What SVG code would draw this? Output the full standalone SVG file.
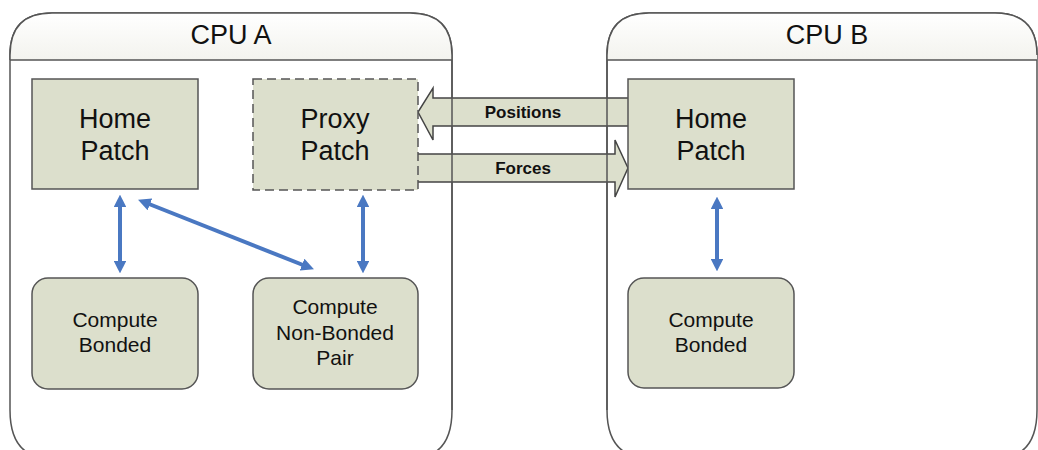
<svg xmlns="http://www.w3.org/2000/svg" width="1038" height="450" viewBox="0 0 1038 450">
<defs>
<linearGradient id="hdr" x1="0" y1="0" x2="0" y2="1">
<stop offset="0" stop-color="#ffffff"/>
<stop offset="1" stop-color="#f3f3ee"/>
</linearGradient>
<marker id="bh" viewBox="0 0 10 10" refX="5" refY="5" markerWidth="3.2" markerHeight="3.2" orient="auto-start-reverse">
<path d="M0,0 L10,5 L0,10 z" fill="#4a78c2"/>
</marker>
</defs>
<style>
.cpu{fill:#ffffff;stroke:#555;stroke-width:1.5}
.cpuo{fill:none;stroke:#555;stroke-width:1.5}
.box{fill:#dcdfcc;stroke:#555;stroke-width:1.5}
.dash{stroke-dasharray:9 5}
.t{font-family:"Liberation Sans",Arial,sans-serif;fill:#111;text-anchor:middle}
.big{font-size:27px}
.sm{font-size:21px}
.lab{font-size:17px;font-weight:bold}
.bl{stroke:#4a78c2;stroke-width:4;fill:none;marker-start:url(#bh);marker-end:url(#bh)}
.blk{fill:#dcdfcc;stroke:#444;stroke-width:1.5}
</style>
<g id="cpuA">
<path class="cpu" d="M10,410 L10,55 Q10,13 52,13 L410,13 Q452,13 452,55 L452,410 Q452,458 412,458 L50,458 Q10,458 10,410 z"/>
<path d="M10,60 L10,55 Q10,13 52,13 L410,13 Q452,13 452,55 L452,60 z" fill="url(#hdr)" stroke="none"/>
<text class="t big" x="231" y="44">CPU A</text>
</g>
<g id="cpuB">
<path class="cpu" d="M1037,410 Q1037,458 997,458 L649,458 Q607,458 607,410 L607,55 Q607,13 649,13 L995,13 Q1037,13 1037,55 z"/>
<path d="M607,60 L607,55 Q607,13 649,13 L995,13 Q1037,13 1037,55 L1037,60 z" fill="url(#hdr)" stroke="none"/>
<text class="t big" x="827" y="44">CPU B</text>
</g>
<g id="connectors">
<path class="blk" d="M628,98 L433,98 L433,88 L418,112 L433,140 L433,126 L628,126"/>
<path class="blk" d="M418,154 L615,154 L615,140 L628,168 L615,197 L615,182 L418,182"/>
<line class="bl" x1="120" y1="201" x2="120" y2="267"/>
<line class="bl" x1="144" y1="202" x2="308" y2="267"/>
<line class="bl" x1="363" y1="201" x2="363" y2="267"/>
<line class="bl" x1="717" y1="203" x2="717" y2="265"/>
<text class="t lab" x="523" y="118">Positions</text>
<text class="t lab" x="523" y="174">Forces</text>
</g>
<g id="frames">
<path class="cpuo" d="M10,60 L452,60 M452,55 L452,410 M607,55 L607,410 M607,60 L1037,60"/>
<path class="cpuo" d="M10,60 L10,55 Q10,13 52,13 L410,13 Q452,13 452,55"/>
<path class="cpuo" d="M607,55 Q607,13 649,13 L995,13 Q1037,13 1037,55"/>
</g>
<g id="homeA">
<rect class="box" x="32" y="79" width="166" height="110"/>
<text class="t big" x="115" y="128">Home</text>
<text class="t big" x="115" y="160">Patch</text>
</g>
<g id="proxyA">
<rect class="box dash" x="253" y="79" width="165" height="111"/>
<text class="t big" x="335" y="128">Proxy</text>
<text class="t big" x="335" y="160">Patch</text>
</g>
<g id="homeB">
<rect class="box" x="628" y="79" width="166" height="110"/>
<text class="t big" x="711" y="128">Home</text>
<text class="t big" x="711" y="160">Patch</text>
</g>
<g id="bondedA">
<rect class="box" x="32" y="278" width="166" height="111" rx="16"/>
<text class="t sm" x="115" y="327">Compute</text>
<text class="t sm" x="115" y="352">Bonded</text>
</g>
<g id="nonbonded">
<rect class="box" x="253" y="278" width="165" height="111" rx="16"/>
<text class="t sm" x="335" y="314">Compute</text>
<text class="t sm" x="335" y="340">Non-Bonded</text>
<text class="t sm" x="335" y="365">Pair</text>
</g>
<g id="bondedB">
<rect class="box" x="628" y="278" width="166" height="110" rx="16"/>
<text class="t sm" x="711" y="327">Compute</text>
<text class="t sm" x="711" y="352">Bonded</text>
</g>
</svg>
